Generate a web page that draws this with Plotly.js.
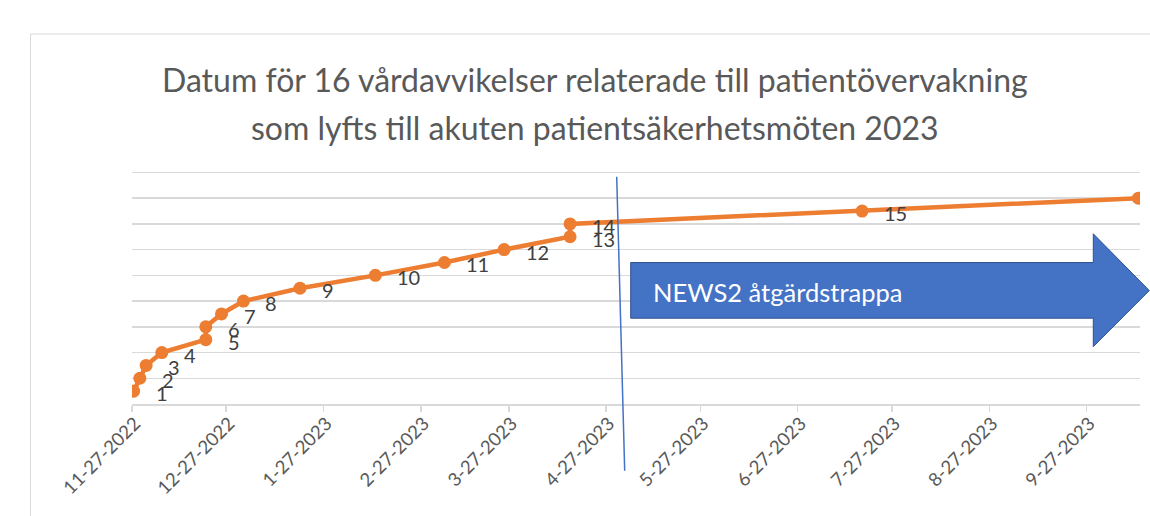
<!DOCTYPE html>
<html>
<head>
<meta charset="utf-8">
<script src="https://cdn.plot.ly/plotly-3.0.1.min.js"></script>
<style>html,body{margin:0;padding:0;background:#fff;}#chart{width:1150px;height:516px;}</style>
</head>
<body>
<div id="chart"></div>
<script>
// ---- data ----
const eventDates = ['2022-11-27','2022-11-29','2022-12-01','2022-12-06','2022-12-20','2022-12-20','2022-12-25','2023-01-01','2023-01-19','2023-02-12','2023-03-06','2023-03-25','2023-04-15','2023-04-15','2023-07-17','2023-10-13'];
const eventNumbers = [1,2,3,4,5,6,7,8,9,10,11,12,13,14,15,16];
const tickDates = ['2022-11-27','2022-12-27','2023-01-27','2023-02-27','2023-03-27','2023-04-27','2023-05-27','2023-06-27','2023-07-27','2023-08-27','2023-09-27'];
const tickLabels = ['11-27-2022','12-27-2022','1-27-2023','2-27-2023','3-27-2023','4-27-2023','5-27-2023','6-27-2023','7-27-2023','8-27-2023','9-27-2023'];
const titleLines = ['Datum för 16 vårdavvikelser relaterade till patientövervakning','som lyfts till akuten patientsäkerhetsmöten 2023'];
const arrowLabel = 'NEWS2 åtgärdstrappa';

// ---- layout helpers ----
const W = 1150, H = 516;
const Y_MAX = 18.5;                       // a little headroom so the top gridline (18) is drawn
const unitPx = (404 - 172.7) / 18;        // vertical pixels per unit
const M = {l:132, r:10, t: 404 - Y_MAX * unitPx, b:112};
const PW = W - M.l - M.r, PH = H - M.t - M.b;
const px = x => (x - M.l) / PW;
const py = y => (H - M.b - y) / PH;

// Excel date axis places each day's point in the middle of its day slot
const xMid = eventDates.map(d => d + ' 12:00');

const FONT = 'Lato, "Liberation Sans", sans-serif';

const trace = {
  type: 'scatter', mode: 'lines+markers',
  x: xMid, y: eventNumbers,
  line: {color: '#ED7D31', width: 4.5},
  marker: {color: '#ED7D31', size: 13},
  hoverinfo: 'skip', showlegend: false
};

// the last point's label falls beyond the right edge of the picture in the reference
const labelAnns = eventNumbers.slice(0, eventNumbers.length - 1).map((v, i) => ({
  x: xMid[i], y: v, xref: 'x', yref: 'y',
  text: String(v), showarrow: false,
  xanchor: 'left', yanchor: 'middle', xshift: 20, yshift: -2,
  font: {family: FONT, size: 20, color: '#404040'}
}));

const titleAnns = titleLines.map((t, i) => ({
  xref: 'paper', yref: 'paper', x: px(595), y: py(80 + i * 48),
  xanchor: 'center', yanchor: 'middle', showarrow: false,
  text: t, font: {family: FONT, size: 32, color: '#595959'}
}));

const arrowPts = [[630.7,262.7],[1093.3,262.7],[1093.3,234],[1149.3,290.7],[1093.3,346.7],[1093.3,318.3],[630.7,318.3]];
const arrowPath = 'M ' + arrowPts.map(p => px(p[0]).toFixed(5) + ',' + py(p[1]).toFixed(5)).join(' L ') + ' Z';

const layout = {
  width: W, height: H,
  margin: M,
  paper_bgcolor: '#fff', plot_bgcolor: '#fff',
  xaxis: {
    type: 'date',
    range: ['2022-11-27', '2023-10-14'],
    tickmode: 'array', tickvals: tickDates, ticktext: tickLabels,
    tickangle: -45,
    tickfont: {family: FONT, size: 18.5, color: '#595959'},
    ticklabelstandoff: -6, ticklabelshift: 3,
    showgrid: false, zeroline: false,
    showline: true, linecolor: '#D9D9D9', linewidth: 1.5,
    ticks: 'outside', ticklen: 6, tickcolor: '#D9D9D9', tickwidth: 1.5,
    fixedrange: true
  },
  yaxis: {
    range: [0, Y_MAX], dtick: 2, tick0: 0,
    showticklabels: false, ticks: '',
    showgrid: true, gridcolor: '#D9D9D9', gridwidth: 1.5,
    zeroline: false, showline: false, fixedrange: true
  },
  shapes: [
    {type: 'line', xref: 'paper', yref: 'paper', x0: px(30.5), y0: py(34.5), x1: px(30.5), y1: py(600),
     line: {color: '#D9D9D9', width: 1}, layer: 'below'},
    {type: 'line', xref: 'paper', yref: 'paper', x0: px(30.5), y0: py(34.5), x1: px(1300), y1: py(34.5),
     line: {color: '#D9D9D9', width: 1}, layer: 'below'},
    {type: 'line', xref: 'paper', yref: 'paper', x0: px(616.7), y0: py(177), x1: px(624.7), y1: py(470.7),
     line: {color: '#4472C4', width: 1.5}},
    {type: 'path', xref: 'paper', yref: 'paper', path: arrowPath,
     fillcolor: '#4472C4', line: {color: '#2F528F', width: 1}}
  ],
  annotations: titleAnns.concat(labelAnns).concat([{
    xref: 'paper', yref: 'paper', x: px(651), y: py(292),
    xanchor: 'left', yanchor: 'middle', showarrow: false,
    text: arrowLabel, font: {family: FONT, size: 25.5, color: '#FFFFFF'}
  }])
};

Plotly.newPlot('chart', [trace], layout, {displayModeBar: false, staticPlot: true});
</script>
</body>
</html>
